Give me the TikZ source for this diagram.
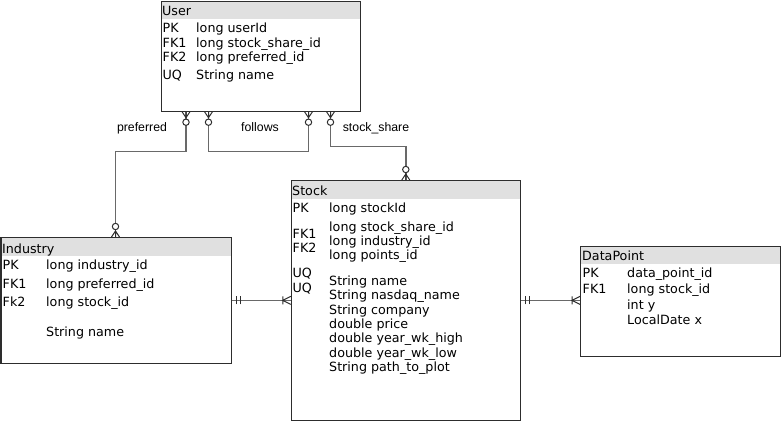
\documentclass[tikz,border=0pt]{standalone}
\usepackage{fontspec}
\setmainfont{DejaVu Sans}
\newfontfamily\relfont{Liberation Sans}
\definecolor{headgray}{RGB}{224,224,224}
\definecolor{boxline}{RGB}{45,45,45}
\definecolor{relline}{RGB}{105,105,105}
\begin{document}
\begin{tikzpicture}[x=1pt, y=-1pt,
		entity/.style={draw=boxline, line width=1.2pt, fill=white, anchor=north west, inner sep=0pt,
			path picture={\fill[headgray] (path picture bounding box.north west) rectangle ([yshift=-18pt]path picture bounding box.north east);}},
		field/.style={anchor=base west, inner sep=0pt, font=\fontsize{12.7}{14}\selectfont},
		lbl/.style={anchor=base, inner sep=0pt, font=\relfont\fontsize{12.3}{14}\selectfont},
		rel/.style={draw=relline, line width=1.5pt},
		foot/.style={draw=boxline, line width=1pt},
		zeromany/.pic={
			\draw[foot] (-4,0) -- (0,6) -- (4,0) (0,0) -- (0,6);
			\draw[foot, fill=white] (0,10.5) circle[radius=3.2pt];
		},
		onemany/.pic={
			\draw[foot] (-4,0) -- (0,8) -- (4,0) (-4,8) -- (4,8);
		},
		onlyone/.pic={
			\draw[foot] (-4,4) -- (4,4) (-4,8) -- (4,8);
		}]
	\useasboundingbox (0,0) rectangle (782,421);
	% entities
	\node[entity, minimum width=199.5pt, minimum height=110pt] (user) at (160.5,0.5) {};
	\node[entity, minimum width=230.5pt, minimum height=125.5pt] (industry) at (0.5,237) {};
	\node[entity, minimum width=229.2pt, minimum height=239.5pt] (stock) at (290.8,180) {};
	\node[entity, minimum width=200pt, minimum height=110.5pt] (datapoint) at (580,245.5) {};
	% user
	\node[field] (user-t) at (162,15) {User};
	\foreach \k/\v/\b [count=\i] in {PK/long userId/32, FK1/long stock\_share\_id/47,
			FK2/long preferred\_id/61.5, UQ/String name/79}{
		\node[field] (user-k\i) at (162.5,\b) {\k};
		\node[field] (user-v\i) at (196,\b) {\v};
	}
	% industry
	\node[field] (industry-t) at (2,253) {Industry};
	\foreach \k/\v/\b [count=\i] in {PK/long industry\_id/269.5, FK1/long preferred\_id/288,
			Fk2/long stock\_id/306.5, /String name/336}{
		\node[field] (industry-k\i) at (2.5,\b) {\k};
		\node[field] (industry-v\i) at (46,\b) {\v};
	}
	% stock
	\node[field] (stock-t) at (292,195) {Stock};
	\foreach \k/\b [count=\i] in {PK/212.5, FK1/238.3, FK2/252.7, UQ/277, UQ/292.3}
		\node[field] (stock-k\i) at (292.5,\b) {\k};
	\foreach \v/\b [count=\i] in {long stockId/212.5, long stock\_share\_id/231.7,
			long industry\_id/245.7, long points\_id/259.5, String name/285.5,
			String nasdaq\_name/299.8, String company/314.1, double price/328.4,
			double year\_wk\_high/342.7, double year\_wk\_low/357, String path\_to\_plot/371.3}
		\node[field] (stock-v\i) at (329,\b) {\v};
	% data point
	\node[field] (datapoint-t) at (582,260) {DataPoint};
	\foreach \k/\v/\b [count=\i] in {PK/data\_point\_id/277.3, FK1/long stock\_id/293.3,
			/int y/309.5, /LocalDate x/324}{
		\node[field] (datapoint-k\i) at (582.5,\b) {\k};
		\node[field] (datapoint-v\i) at (627,\b) {\v};
	}
	% relationships
	\draw[rel] ([xshift=25.5pt]user.south west) -- ++(0,40) -| ([xshift=115pt]industry.north west);
	\draw[rel] ([xshift=48pt]user.south west) -- ++(0,40) -| ([xshift=148pt]user.south west);
	\draw[rel] ([xshift=170pt]user.south west) -- ++(0,35) -| ([xshift=115pt]stock.north west);
	\draw[rel] (industry.east) -- (stock.west);
	\draw[rel] (stock.east) -- (stock.east -| datapoint.west);
	% ends
	\pic at ([xshift=25.5pt]user.south west) {zeromany};
	\pic at ([xshift=48pt]user.south west) {zeromany};
	\pic at ([xshift=148pt]user.south west) {zeromany};
	\pic at ([xshift=170pt]user.south west) {zeromany};
	\pic[rotate=180] at ([xshift=115pt]industry.north west) {zeromany};
	\pic[rotate=180] at ([xshift=115pt]stock.north west) {zeromany};
	\pic[rotate=90] at (industry.east) {onlyone};
	\pic[rotate=-90] at (stock.west) {onemany};
	\pic[rotate=90] at (stock.east) {onlyone};
	\pic[rotate=-90] at (stock.east -| datapoint.west) {onemany};
	% labels
	\node[lbl] (l-pref) at (142,131) {preferred};
	\node[lbl] (l-fol) at (260,131) {follows};
	\node[lbl] (l-share) at (376,131) {stock\_share};
\end{tikzpicture}
\end{document}
